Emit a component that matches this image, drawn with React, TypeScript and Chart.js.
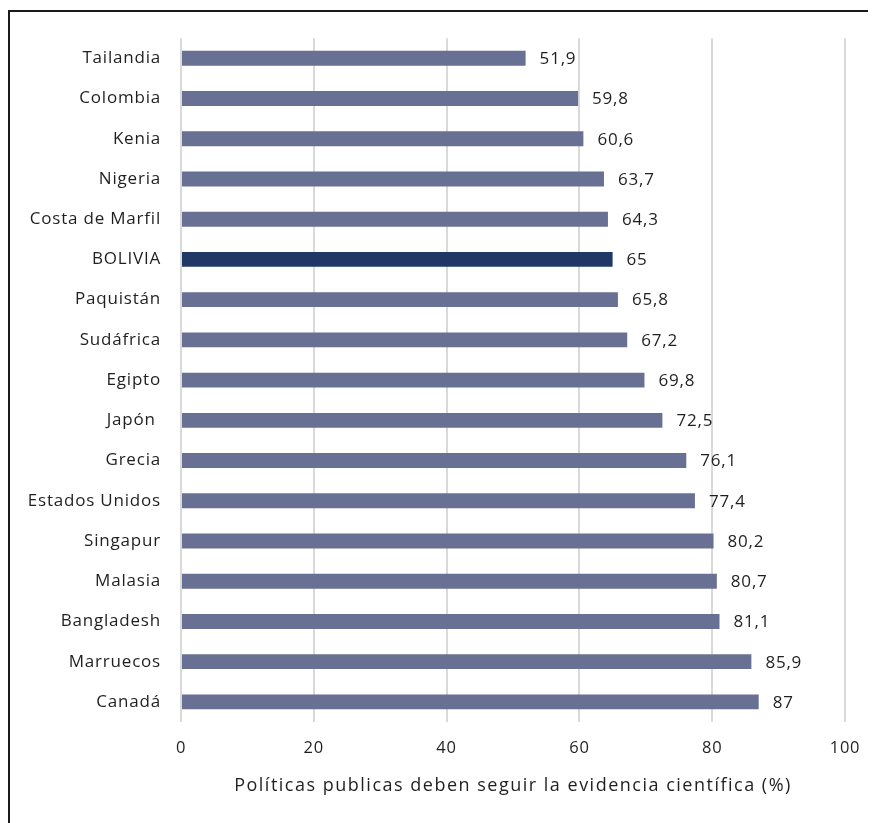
import React, { useEffect, useRef } from "react";
import { Chart, registerables } from "chart.js";

Chart.register(...registerables);

const categories = [
  "Tailandia",
  "Colombia",
  "Kenia",
  "Nigeria",
  "Costa de Marfil",
  "BOLIVIA",
  "Paquistán",
  "Sudáfrica",
  "Egipto",
  "Japón ",
  "Grecia",
  "Estados Unidos",
  "Singapur",
  "Malasia",
  "Bangladesh",
  "Marruecos",
  "Canadá",
];
const values = [51.9, 59.8, 60.6, 63.7, 64.3, 65, 65.8, 67.2, 69.8, 72.5, 76.1, 77.4, 80.2, 80.7, 81.1, 85.9, 87];
const highlight = "BOLIVIA";
const xTicks = [0, 20, 40, 60, 80, 100];
const axisTitle = "Políticas publicas deben seguir la evidencia científica (%)";

const FONT = "'Open Sans', sans-serif";
const TEXT = "#1f1f1f";

const spacing = {
  id: "spacing",
  beforeDraw(chart: any) {
    chart.ctx.letterSpacing = "0.8px";
  },
};

const frame = {
  id: "frame",
  afterDraw(chart: any) {
    const ctx = chart.ctx;
    ctx.save();
    ctx.strokeStyle = "#1a1a1a";
    ctx.lineWidth = 2;
    ctx.beginPath();
    ctx.moveTo(1, chart.height);
    ctx.lineTo(1, 3);
    ctx.lineTo(chart.width, 3);
    ctx.stroke();
    // axis title
    const area = chart.chartArea;
    ctx.font = `18px ${FONT}`;
    ctx.letterSpacing = "1.5px";
    ctx.fillStyle = TEXT;
    ctx.textAlign = "center";
    ctx.textBaseline = "middle";
    ctx.fillText(axisTitle, (area.left + area.right) / 2, 778);
    ctx.restore();
  },
};

const valueLabels = {
  id: "valueLabels",
  afterDatasetsDraw(chart: any) {
    const ctx = chart.ctx;
    const meta = chart.getDatasetMeta(0);
    ctx.save();
    ctx.font = `17px ${FONT}`;
    ctx.letterSpacing = "0.8px";
    ctx.fillStyle = TEXT;
    ctx.textAlign = "left";
    ctx.textBaseline = "middle";
    meta.data.forEach((bar: any, i: number) => {
      const txt = String(values[i]).replace(".", ",");
      ctx.fillText(txt, bar.x + 14, bar.y + 1);
    });
    ctx.restore();
  },
};

export default function App() {
  const ref = useRef<HTMLCanvasElement>(null);
  useEffect(() => {
    if (!ref.current) return;
    const chart = new Chart(ref.current, {
      type: "bar",
      data: {
        labels: categories,
        datasets: [
          {
            data: values,
            backgroundColor: categories.map((c) => (c === highlight ? "#203864" : "#687194")),
            barPercentage: 0.37,
            categoryPercentage: 1,
          },
        ],
      },
      options: {
        indexAxis: "y",
        animation: false,
        responsive: false,
        maintainAspectRatio: false,
        layout: { padding: { top: 29, right: 31, left: 0, bottom: 0 } },
        plugins: { legend: { display: false }, tooltip: { enabled: false } },
        scales: {
          x: {
            min: 0,
            max: 100,
            afterBuildTicks(axis: any) {
              axis.ticks = xTicks.map((v) => ({ value: v }));
            },
            grid: { color: "#d9d9d9", lineWidth: 2, drawTicks: false },
            border: { display: false },
            ticks: { color: TEXT, font: { family: FONT, size: 16.5 }, padding: 16 },
            afterFit(axis: any) {
              axis.height = 101;
            },
          },
          y: {
            grid: { display: false, drawTicks: false },
            border: { display: false },
            ticks: { color: TEXT, font: { family: FONT, size: 17 }, padding: 20, autoSkip: false },
            afterFit(axis: any) {
              axis.width = 173;
            },
          },
        },
      },
      plugins: [spacing, frame, valueLabels],
    });
    return () => chart.destroy();
  }, []);
  return <canvas ref={ref} width={868} height={815} style={{ display: "block" }} />;
}
